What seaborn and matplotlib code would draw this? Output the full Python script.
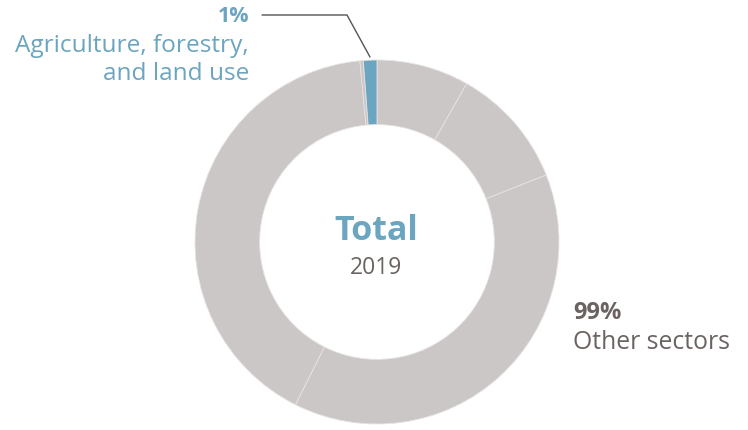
import numpy as np
import matplotlib
matplotlib.use("Agg")
import matplotlib.pyplot as plt
import seaborn as sns

# Data (clockwise from 12 o'clock)
sectors = ["Other 1", "Other 2", "Other 3", "Other 4", "Other 5", "Agriculture, forestry, and land use"]
shares = [8.2, 10.8, 38.4, 41.1, 0.3, 1.2]
highlight_label = "Agriculture, forestry,\nand land use"
highlight_pct = "1%"
other_label = "Other sectors"
other_pct = "99%"
center_title = "Total"
center_year = "2019"

sns.set_theme(style="white")
plt.rcParams['font.family'] = ['Open Sans', 'DejaVu Sans']

GREY = "#cbc7c6"
BLUE = "#6ba5bf"
DARK = "#6b6361"

W, H = 748, 431
CX, CY, R = 377, 243, 182
fig = plt.figure(figsize=(W / 100, H / 100), dpi=100)
ax = fig.add_axes([0, 0, 1, 1])

def px(x, y):
    return ((x - CX) / R, (CY - y) / R)

colors = [GREY] * (len(shares) - 1) + [BLUE]
wedges, _ = ax.pie(shares, colors=colors, startangle=90, counterclock=False,
                   radius=1.0, center=(0, 0), frame=True,
                   wedgeprops=dict(width=0.355, edgecolor="#e6e3e2", linewidth=0.6))
ax.set_xlim(-CX / R, (W - CX) / R)
ax.set_ylim(-(H - CY) / R, CY / R)
ax.set_aspect("auto")
ax.axis("off")

# Center text
ax.text(*px(376, 231), center_title, ha="center", va="center", fontsize=24.5,
        fontweight="bold", color=BLUE)
ax.text(*px(376, 268), center_year, ha="center", va="center", fontsize=16.5, color=DARK)

# Highlight label
ax.text(*px(249, 17), highlight_pct, ha="right", va="center", fontsize=15.5,
        fontweight="bold", color=BLUE)
ax.text(*px(249, 60), highlight_label, ha="right", va="center", fontsize=17.6,
        color=BLUE, linespacing=1.18)

# Leader line
p1, p2, p3 = px(262, 16), px(347, 16), px(370, 58)
ax.plot([p1[0], p2[0], p3[0]], [p1[1], p2[1], p3[1]], color="#555555", lw=1.0,
        solid_joinstyle="miter")

# Other label
ax.text(*px(573, 313), other_pct, ha="left", va="center", fontsize=17,
        fontweight="bold", color=DARK)
ax.text(*px(573, 343), other_label, ha="left", va="center", fontsize=17.8, color=DARK)

fig.savefig("out.png", dpi=100)
